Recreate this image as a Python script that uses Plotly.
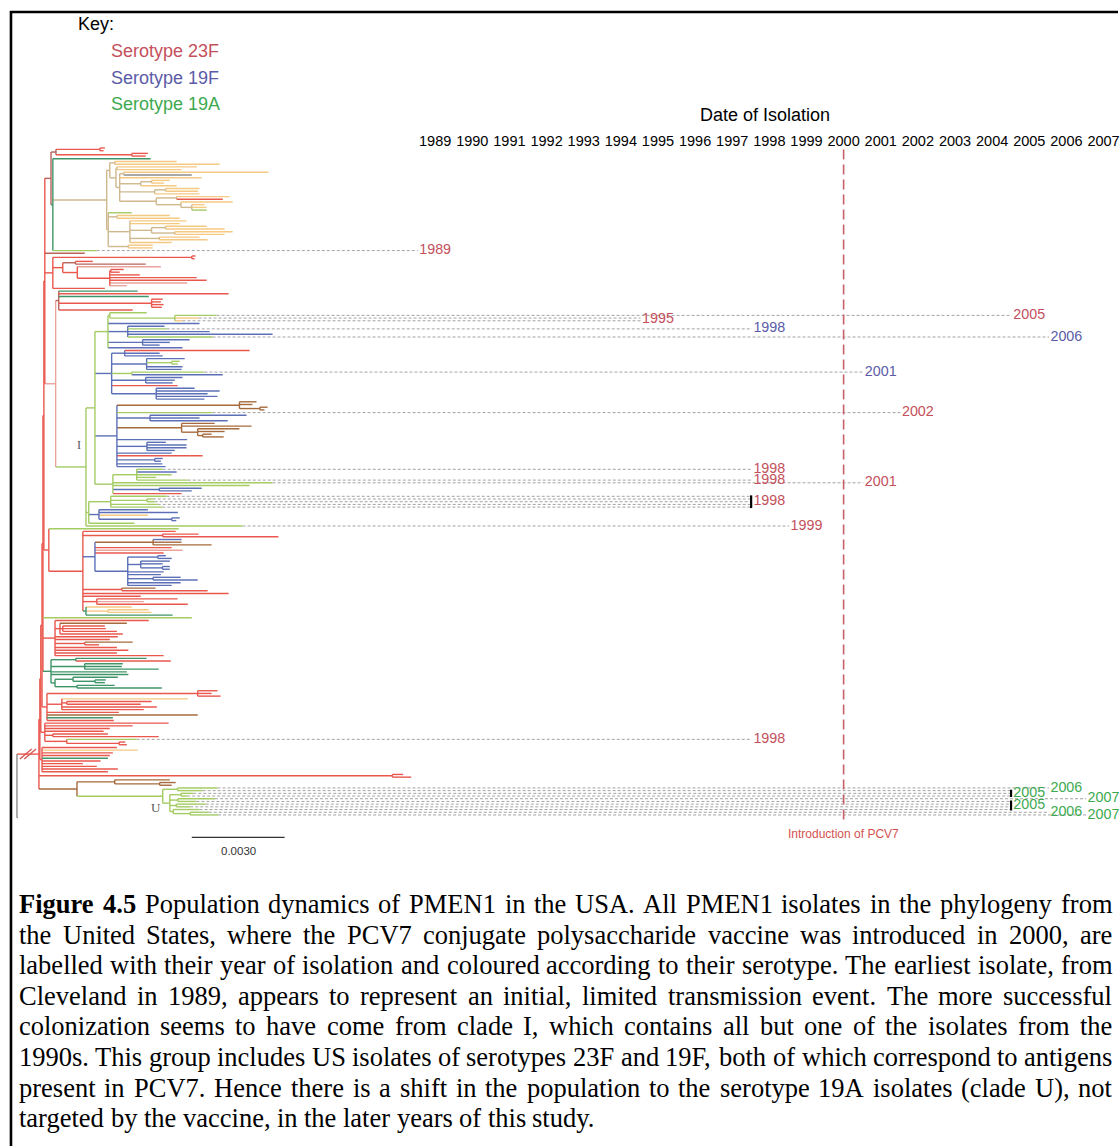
import plotly.graph_objects as go

W, H = 1120, 1146

# ------------------------------------------------------------------ data
YEARS = list(range(1989, 2008))          # date-of-isolation scale
VACCINE_YEAR = 2000                      # PCV7 introduced in the USA
SCALE_BAR = 0.0030                       # substitutions per site
DEPTH_UNIT = 1e-4                        # clade depths below are in 1e-4 subs/site

SEROTYPE_NAMES = ["23F", "19F", "19A"]
SEROTYPE_COLORS = ["#c4505c", "#5b5ba8", "#3da94f"]

# year of isolation and serotype of every dated US isolate, top to bottom
# (these tips carry a '*' in the clade strings)
ISOLATION_YEARS = [1989, 2005, 1995, 1995, 1998, 2006, 2001, 2002, 1998, 1998, 2001,
                   1998, 1998, 1998, 1998, 1998, 1999, 1998,
                   2006, 2005, 2005, 2005, 2007, 2005, 2005, 2005, 2005, 2006, 2007]
SEROTYPES = ["23F", "23F", "23F", "23F", "19F", "19F", "19F", "23F", "23F", "23F", "23F",
             "23F", "23F", "23F", "23F", "23F", "23F", "23F",
             "19A", "19A", "19A", "19A", "19A", "19A", "19A", "19A", "19A", "19A", "19A"]

# clades: internal node "(children)c:depth", tip "c:depth", c = branch colour code
A_RED = "((r:28.4,r:28.0)r:26.8,(r:42.3,r:41.6)r:37.1)m:12.6"
Y_UP = ("((y:51.6,y:65.5)t:31.6,((y:58.1,y:53.2)t:32.3,((y:81.3,k:56.5)t:34.5,y:59.7,"
        "((y:49.4,y:47.5)t:43.5,y:51.6)t:40.0,((y:59.0,y:58.5)t:48.0,y:59.0)t:44.5,"
        "((y:68.7,r:66.5)t:51.6,(y:69.7,(y:60.6,y:61.3,l:61.3)t:56.5)t:53.0)t:45.0)t:33.2)t:32.0)t:30.0")
Y_LOW = ("(l:37.1,(y:49.4,y:52.6)t:32.3,(y:54.8,y:52.6,((y:61.3,y:67.1)t:48.0,(y:69.7,y:67.1)t:51.0)t:43.5,"
         "(y:59.0,y:61.6)t:46.0,y:50.0)t:36.5,(y:43.9,y:43.9)t:36.0)t:29.5")
YELLOW = f"({Y_UP},{Y_LOW})t:29.0"
GREEN = f"(g:43.2,{YELLOW},l:25.8*)g:11.6"
TOP = f"({A_RED},{GREEN})m:11.0"

CLADE_B = ("((r:57.7,r:57.4)r:56.5,((r:24.5,m:41.6)m:18.9,(p:46.5,((r:34.5,r:33.2)r:30.3,"
           "r:39.7,r:58.1,r:61.3,p:55.0,p:35.5)r:30.0)r:19.5)r:14.8,r:28.4)r:11.6")
CLADE_C = "(g:39.0,r:68.4,g:42.6,(r:47.1,r:46.5,r:47.4,r:46.8)r:43.5,r:37.4)m:13.5"

I1A = "(l:41.9,(l:64.5*,y:58.7*,y:53.5*)l:51.0)l:30.0"
I1B = "(b:47.7,l:48.4*,b:62.3,b:82.6,l:63.2*)b:35.8"
I1C = "(b:55.8,b:49.4,b:46.1)b:40.6"
I1_TOP = f"({I1A},b:59.0,{I1B},{I1C},b:53.5)l:29.4"
I1D = "(b:54.2,(l:52.6,l:52.0)l:50.0,b:53.5,b:53.2)b:41.9"
I1E = "(b:53.5,b:51.0,b:50.3)b:41.6"
I1F = "(b:57.4,b:65.5,b:61.6,b:64.8,b:60.6)b:45.0"
I1_MID = f"((r:75.2,b:46.1,b:47.1)b:34.8,{I1D},(l:60.6*,b:66.5)l:37.1,{I1E},r:51.9,{I1F})b:30.6"
BROWN1 = "(n:77.4,n:76.1,(n:81.0,n:80.0)n:78.5)n:71.9"
BROWN2 = "(n:63.9,n:75.8,(n:71.9,n:67.1,(n:62.9,n:66.8)n:60.0)n:58.4)n:53.2"
I1G = "(b:48.1,b:54.8,b:54.8,b:51.0)b:42.0"
I1H = "(b:47.1,b:46.5)b:44.5"
I1_LOW = (f"({BROWN1},l:63.2*,(b:74.2,b:59.0,b:68.1)b:43.0,{BROWN2},b:55.0,{I1G},"
          f"b:50.0,r:60.0,{I1H},b:47.0,b:48.0)b:32.3")
I1_LOW2 = "((l:47.1*,b:51.6,l:50.0,l:45.0,l:55.2*)l:38.7,l:82.6*,l:75.2,(b:59.7,b:56.5)b:46.0,r:53.2)l:31.0"
I1 = f"({I1_TOP},{I1_MID},{I1_LOW},{I1_LOW2})l:25.2"
I2_1998 = "(l:48.4*,(l:43.9*,l:44.5*)l:42.0,l:45.5*,l:47.0*)l:30.3"
I2_BLUE = "(b:42.3,b:52.0,y:42.3,(b:52.6,b:51.5)b:50.0)b:26.5"
I2 = f"({I2_1998},{I2_BLUE},l:38.0)l:23.2"
CLADE_I = f"({I1},{I2},l:72.9*)l:22.3"

D_BLUE = ("((b:48.1,b:50.0)b:45.5,(b:49.4,b:47.1,(b:49.4,b:49.4)b:47.0)b:40.0,b:47.4,b:46.5,"
          "(b:52.9,b:58.4)b:44.0,b:52.9,b:50.0)b:35.8")
D_BB = f"((b:53.2,n:53.2,n:62.9)n:44.0,r:50.0,p:53.5,r:47.4,{D_BLUE})b:25.2"
D_RED = (f"(r:51.3,(r:58.7,r:84.5)r:47.1,{D_BB},(n:44.8,r:61.6)r:33.9,r:68.4,r:40.0,"
         f"(r:51.9,p:41.0,r:55.2)r:25.8,(y:37.1,(y:42.6,y:43.5)y:29.4,g:50.3)g:22.3)r:21.3")
CLADE_D = f"(l:52.3,{D_RED})r:10.3"

E_RED = ("(r:42.6,(n:35.5,(r:28.4,r:28.7,r:32.3)r:14.8,r:34.2)r:13.9,r:32.6,r:30.0,"
         "(n:37.4,r:26.5)r:21.9,r:32.3,r:36.0,r:32.3,r:47.4)r:12.3")
E_GREEN = ("((g:41.9,r:49.7)g:19.0,(g:34.2,g:33.9,g:45.8)g:21.9,g:35.5,g:36.0,"
           "((g:32.6,(g:28.7,g:28.4)g:25.2)g:18.1,(g:31.6,g:46.8)g:19.4)g:12.3)g:11.0")

F_TOP = ("((r:64.8,r:62.9,r:65.8)r:58.4,(y:55.2,(r:43.5,r:40.0)r:16.1,r:45.2,r:41.0)r:14.5,"
         "r:32.9,n:58.4,g:31.0,r:31.3)r:9.7")
F_MID = "(r:49.0,r:37.4,r:30.0,r:28.0,(r:29.4,r:45.8)r:11.6,(l:38.7*,(r:35.0,r:35.5)r:33.0)r:16.1)r:9.0"
F_BOT = "(r:32.3,y:39.0,r:31.0,r:30.0,g:29.4,r:27.0,r:21.3,r:25.8,r:32.6,r:29.4)r:8.1"

LONG_BRANCH = "(r:124.8,r:127.4)r:121.3"
CLADE_U = ("((l:64.8*,l:60.0*)l:51.9,((l:57.0*,l:55.0*)l:53.0,(l:64.0*,l:58.0*)l:52.0,"
           "(l:61.0*,l:56.0*)l:51.5,(l:59.0*,(l:62.0*,l:65.0*)l:56.0)l:50.5)l:49.4)l:47.1")
U_SISTER = f"((n:49.4,(n:51.3,n:50.0)n:46.1)n:31.6,{CLADE_U})n:19.4"

UPPER = f"({TOP},m:21.9,{CLADE_B},({CLADE_C},{CLADE_I})p:12.5)r:9.0"
X5 = f"({UPPER},{CLADE_D})r:8.7"
X4 = f"({X5},l:56.5,{E_RED},{E_GREEN})r:8.4"
X3 = f"({X4},{F_TOP})r:8.1"
X2 = f"({X3},{F_MID})r:7.7"
X1 = f"({X2},{F_BOT})r:7.4"
INGROUP = f"({X1},{LONG_BRANCH},{U_SISTER})r:7.1"
TREE = f"({INGROUP},k:0.3)k:0.0"

CAPTION = [
    "Figure 4.5 Population dynamics of PMEN1 in the USA. All PMEN1 isolates in the phylogeny from",
    "the United States, where the PCV7 conjugate polysaccharide vaccine was introduced in 2000, are",
    "labelled with their year of isolation and coloured according to their serotype. The earliest isolate, from",
    "Cleveland in 1989, appears to represent an initial, limited transmission event. The more successful",
    "colonization seems to have come from clade I, which contains all but one of the isolates from the",
    "1990s. This group includes US isolates of serotypes 23F and 19F, both of which correspond to antigens",
    "present in PCV7. Hence there is a shift in the population to the serotype 19A isolates (clade U), not",
    "targeted by the vaccine, in the later years of this study.",
]
CAPTION_BOLD = {"Figure", "4.5"}

# ------------------------------------------------------------------ style
SANS = "Liberation Sans, Arial, Helvetica, sans-serif"
SERIF = "Liberation Serif, Times New Roman, serif"
BRANCH_COLORS = {
    "r": "#e9574d", "m": "#b9625a", "p": "#eba39d", "g": "#3f9468", "l": "#a4cc63",
    "y": "#f5c982", "t": "#cfb88e", "b": "#5c70b7", "n": "#a66a3d", "k": "#8c8c8c",
}

TREE_RANGE = [-5.48, 355.81]      # horizontal extent of the tree axis (depth units)
YEAR_RANGE = [1977.28, 2007.39]   # horizontal extent of the date axis
LEAF_RANGE = [369.6, -54.8]       # vertical extent in tip positions (reversed)


def year_to_tree(year):
    span_t = TREE_RANGE[1] - TREE_RANGE[0]
    span_y = YEAR_RANGE[1] - YEAR_RANGE[0]
    return TREE_RANGE[0] + (year - YEAR_RANGE[0]) * span_t / span_y


def parse_clade(text):
    s = "".join(text.split())
    pos = 0

    def read():
        nonlocal pos
        kids = []
        if s[pos] == "(":
            pos += 1
            kids.append(read())
            while s[pos] == ",":
                pos += 1
                kids.append(read())
            if s[pos] != ")":
                raise ValueError("unbalanced clade near: " + s[max(0, pos - 20):pos + 20])
            pos += 1
        code = s[pos]
        pos += 1
        if s[pos] != ":":
            raise ValueError("missing depth near: " + s[max(0, pos - 20):pos + 20])
        pos += 1
        start = pos
        while pos < len(s) and (s[pos].isdigit() or s[pos] == "."):
            pos += 1
        node = {"code": code, "depth": float(s[start:pos]), "kids": kids, "dated": False}
        if pos < len(s) and s[pos] == "*":
            node["dated"] = True
            pos += 1
        return node

    root = read()
    if pos != len(s):
        raise ValueError("trailing text in clade string")
    return root


tree = parse_clade(TREE)

# rectangular layout: tips in order, internal nodes midway between first/last child
leaves = []


def place(node):
    if node["kids"]:
        for k in node["kids"]:
            place(k)
        node["y"] = 0.5 * (node["kids"][0]["y"] + node["kids"][-1]["y"])
    else:
        node["y"] = float(len(leaves))
        leaves.append(node)


place(tree)

segs = {c: ([], []) for c in BRANCH_COLORS}
stack = [(tree, None)]
while stack:
    node, pdepth = stack.pop()
    xs, ys = segs[node["code"]]
    if pdepth is not None:
        xs += [pdepth, node["depth"], None]
        ys += [node["y"], node["y"], None]
    if node["kids"]:
        xs += [node["depth"], node["depth"], None]
        ys += [node["kids"][0]["y"], node["kids"][-1]["y"], None]
        for k in node["kids"]:
            stack.append((k, node["depth"]))

fig = go.Figure()

# leader lines from dated tips to their year of isolation
dated = [lf for lf in leaves if lf["dated"]]
assert len(dated) == len(ISOLATION_YEARS) == len(SEROTYPES)
groups = []
for lf, yr, st in zip(dated, ISOLATION_YEARS, SEROTYPES):
    g = groups[-1] if groups else None
    if g and g["year"] == yr and g["sero"] == st and lf["y"] - g["tips"][-1]["y"] == 1:
        g["tips"].append(lf)
    else:
        groups.append({"year": yr, "sero": st, "tips": [lf]})

LABEL_GAP = 0.47
lx, ly = [], []
for g in groups:
    end = year_to_tree(g["year"] - LABEL_GAP)
    for lf in g["tips"]:
        lx += [lf["depth"], end, None]
        ly += [lf["y"], lf["y"], None]
fig.add_trace(go.Scatter(x=lx, y=ly, mode="lines", hoverinfo="skip",
                         line=dict(color="#a3a3a3", width=1, dash="3px,2px")))

# tree branches, one trace per colour
for code in ["k", "t", "y", "p", "m", "r", "g", "n", "b", "l"]:
    xs, ys = segs[code]
    if xs:
        fig.add_trace(go.Scatter(x=xs, y=ys, mode="lines", hoverinfo="skip",
                                 line=dict(color=BRANCH_COLORS[code], width=1.4)))

# break marks on the (shortened) root branch
ingroup = tree["kids"][0]
cx = 0.5 * (tree["depth"] + ingroup["depth"])
bx, by = [], []
for off in (-0.7, 0.7):
    bx += [cx + off - 1.9, cx + off + 1.9, None]
    by += [ingroup["y"] + 1.85, ingroup["y"] - 1.85, None]
fig.add_trace(go.Scatter(x=bx, y=by, mode="lines", hoverinfo="skip",
                         line=dict(color="#d9534f", width=1.3)))

# brackets for several isolates of the same year
sx, sy = [], []
for g in groups:
    if len(g["tips"]) >= 3:
        sx += [g["year"] - 0.49, g["year"] - 0.49, None]
        sy += [g["tips"][0]["y"] - 0.35, g["tips"][-1]["y"] + 0.35, None]
fig.add_trace(go.Scatter(x=sx, y=sy, xaxis="x2", yaxis="y", mode="lines", hoverinfo="skip",
                         line=dict(color="black", width=2.2)))

# year labels at the end of each leader
sero_color = dict(zip(SEROTYPE_NAMES, SEROTYPE_COLORS))
fig.add_trace(go.Scatter(
    x=[g["year"] for g in groups],
    y=[sum(t["y"] for t in g["tips"]) / len(g["tips"]) for g in groups],
    text=[str(g["year"]) for g in groups],
    xaxis="x2", yaxis="y", mode="text", textposition="middle center", hoverinfo="skip",
    cliponaxis=False,
    textfont=dict(family=SANS, size=14.3, color=[sero_color[g["sero"]] for g in groups]),
))

# ------------------------------------------------------------------ text
annos = []


def text_at(text, x_px, y_px, size, color="black", family=SANS, xanchor="left"):
    annos.append(dict(text=text, x=x_px / W, y=1 - y_px / H, xref="paper", yref="paper",
                      xanchor=xanchor, yanchor="middle", showarrow=False,
                      font=dict(family=family, size=size, color=color)))


text_at("Key:", 76, 24, 18)
for i, (name, col) in enumerate(zip(SEROTYPE_NAMES, SEROTYPE_COLORS)):
    text_at(f"Serotype {name}", 109, 51.5 + 26.3 * i, 18, col)
text_at("Date of Isolation", 766, 115.5, 18, xanchor="center")

annos.append(dict(text="Introduction of PCV7", x=VACCINE_YEAR, xref="x2", y=1 - 833.5 / H,
                  yref="paper", xanchor="center", yanchor="middle", showarrow=False,
                  font=dict(family=SANS, size=12, color="#d4524f")))

# clade names
annos.append(dict(text="I", x=20.0, y=110.0, xref="x", yref="y", showarrow=False,
                  font=dict(family=SERIF, size=12, color="#555555")))
annos.append(dict(text="U", x=44.8, y=244.3, xref="x", yref="y", showarrow=False,
                  font=dict(family=SERIF, size=13, color="#555555")))

# scale bar
bar_x0 = 56.5
bar_len = SCALE_BAR / DEPTH_UNIT
annos.append(dict(text=f"{SCALE_BAR:.4f}", x=bar_x0 + bar_len / 2, xref="x", y=1 - 850.5 / H,
                  yref="paper", xanchor="center", yanchor="middle", showarrow=False,
                  font=dict(family=SANS, size=11.5, color="#333333")))

# justified caption (Times metrics)
REG_W = {" ": 250, ".": 250, ",": 250, "(": 333, ")": 333, ":": 278, "-": 333}
REG_W.update({d: 500 for d in "0123456789"})
REG_W.update(zip("abcdefghijklmnopqrstuvwxyz",
                 [444, 500, 444, 500, 444, 333, 500, 500, 278, 278, 500, 278, 778,
                  500, 500, 500, 500, 333, 389, 278, 500, 500, 722, 500, 500, 444]))
REG_W.update(zip("ABCDEFGHIJKLMNOPQRSTUVWXYZ",
                 [722, 667, 667, 722, 611, 556, 722, 722, 333, 389, 722, 611, 889,
                  722, 722, 556, 722, 667, 556, 611, 722, 722, 944, 722, 722, 611]))
BOLD_W = dict(REG_W)
BOLD_W.update({"F": 611, "u": 556, "r": 444})

CAP_SIZE = 26.5
CAP_LEFT, CAP_RIGHT = 18, 1113
CAP_BASE, CAP_STEP = 913, 30.6


def word_w(word, bold):
    table = BOLD_W if bold else REG_W
    return sum(table.get(c, 500) for c in word) * CAP_SIZE / 1000


for li, line in enumerate(CAPTION):
    words = line.split(" ")
    widths = [word_w(w, w in CAPTION_BOLD and li == 0) for w in words]
    if li < len(CAPTION) - 1:
        gap = (CAP_RIGHT - CAP_LEFT - sum(widths)) / (len(words) - 1)
    else:
        gap = 250 * CAP_SIZE / 1000
    x = CAP_LEFT
    yc = CAP_BASE + CAP_STEP * li - 0.3375 * CAP_SIZE
    for w, ww in zip(words, widths):
        t = f"<b>{w}</b>" if (w in CAPTION_BOLD and li == 0) else w
        text_at(t, x - 1, yc, CAP_SIZE, "black", SERIF)
        x += ww + gap

shapes = [
    # frame
    dict(type="line", xref="paper", yref="paper", x0=10 / W, x1=1, y0=1 - 12 / H, y1=1 - 12 / H,
         line=dict(color="black", width=2.4)),
    dict(type="line", xref="paper", yref="paper", x0=11 / W, x1=11 / W, y0=1 - 11 / H, y1=0,
         line=dict(color="black", width=2.6)),
    # vaccine introduction
    dict(type="line", xref="x2", yref="y", x0=VACCINE_YEAR, x1=VACCINE_YEAR,
         y0=0.6, y1=len(leaves) + 0.6, line=dict(color="#c8606a", width=1.6, dash="10px,5px")),
    # scale bar
    dict(type="line", xref="x", yref="paper", x0=bar_x0, x1=bar_x0 + bar_len,
         y0=1 - 837.3 / H, y1=1 - 837.3 / H, line=dict(color="#333333", width=1.2)),
]

fig.update_layout(
    width=W, height=H, autosize=False,
    margin=dict(l=0, r=0, t=0, b=0, pad=0),
    paper_bgcolor="white", plot_bgcolor="white",
    showlegend=False, hovermode=False,
    font=dict(family=SANS, color="black"),
    xaxis=dict(range=TREE_RANGE, visible=False, fixedrange=True),
    xaxis2=dict(range=YEAR_RANGE, overlaying="x", side="top", anchor="free",
                position=1 - 149 / H, tickmode="array", tickvals=YEARS,
                ticktext=[str(y) for y in YEARS], showgrid=False, zeroline=False,
                showline=False, ticks="", ticklabeloverflow="allow",
                tickfont=dict(family=SANS, size=14.5, color="black"), fixedrange=True),
    yaxis=dict(range=LEAF_RANGE, visible=False, fixedrange=True),
    annotations=annos,
    shapes=shapes,
)

fig.write_html("out.html", config={"displayModeBar": False})
